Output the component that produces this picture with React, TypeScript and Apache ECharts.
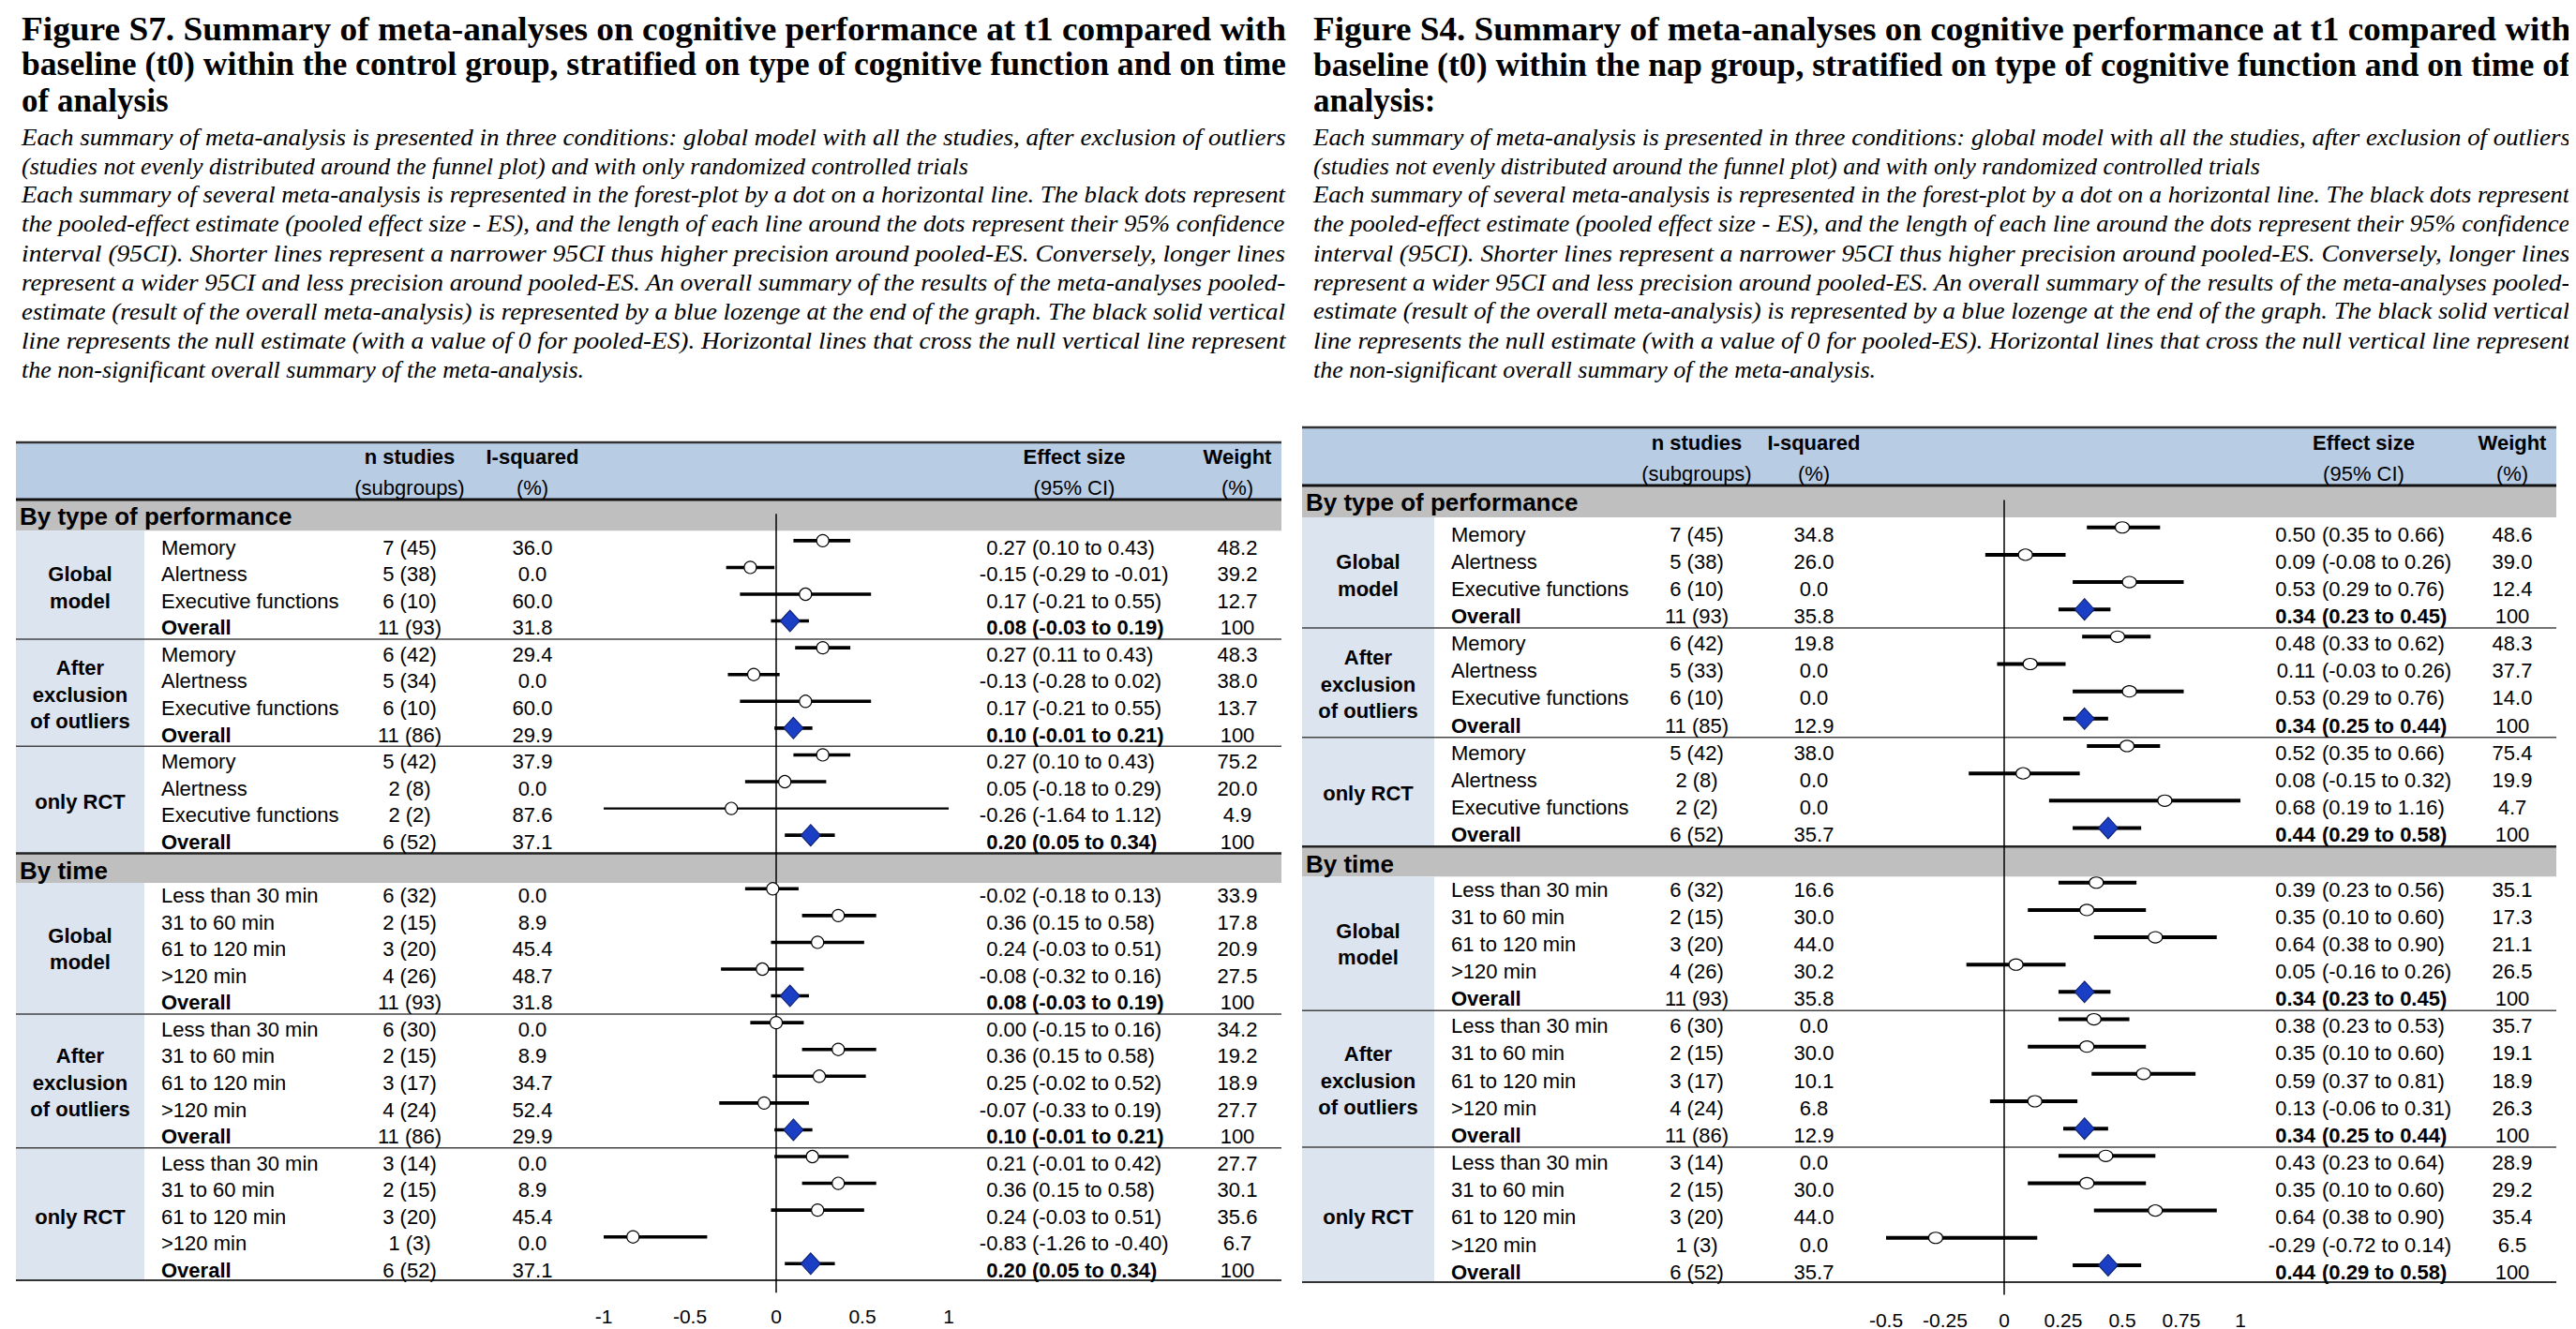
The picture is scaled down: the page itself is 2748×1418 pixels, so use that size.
import React, { useEffect, useRef } from "react";
import * as echarts from "echarts";

// ---------------- Shared labels ----------------
const typeRowLabels = ["Memory", "Alertness", "Executive functions", "Overall"];
const timeRowLabels = ["Less than 30 min", "31 to 60 min", "61 to 120 min", ">120 min", "Overall"];
const modelLabels = ["Global\nmodel", "After\nexclusion\nof outliers", "only RCT"];
const sectionLabels = ["By type of performance", "By time"];
const headerTopLabels = ["n studies", "I-squared", "Effect size", "Weight"];
const headerBottomLabels = ["(subgroups)", "(%)", "(95% CI)", "(%)"];

const s7Title = [
  "Figure S7. Summary of meta-analyses on cognitive performance at t1 compared with",
  "baseline (t0) within the control group, stratified on type of cognitive function and on time",
  "of analysis",
];
const s4Title = [
  "Figure S4. Summary of meta-analyses on cognitive performance at t1 compared with",
  "baseline (t0) within the nap group, stratified on type of cognitive function and on time of",
  "analysis:",
];
const noteLines = [
  "Each summary of meta-analysis is presented in three conditions: global model with all the studies, after exclusion of outliers",
  "(studies not evenly distributed around the funnel plot) and with only randomized controlled trials",
  "Each summary of several meta-analysis is represented in the forest-plot by a dot on a horizontal line. The black dots represent",
  "the pooled-effect estimate (pooled effect size - ES), and the length of each line around the dots represent their 95% confidence",
  "interval (95CI). Shorter lines represent a narrower 95CI thus higher precision around pooled-ES. Conversely, longer lines",
  "represent a wider 95CI and less precision around pooled-ES. An overall summary of the results of the meta-analyses pooled-",
  "estimate (result of the overall meta-analysis) is represented by a blue lozenge at the end of the graph. The black solid vertical",
  "line represents the null estimate (with a value of 0 for pooled-ES). Horizontal lines that cross the null vertical line represent",
  "the non-significant overall summary of the meta-analysis.",
];
const noteJustified = [true, false, true, true, true, true, true, true, false];
const titleJustified = [true, true, false];

// ---------------- Tick labels ----------------
const s7Ticks = [-1, -0.5, 0, 0.5, 1];
const s4Ticks = [-0.5, -0.25, 0, 0.25, 0.5, 0.75, 1];

// ---------------- Figure S7 (control group) ----------------
const s7TypeN = ["7 (45)", "5 (38)", "6 (10)", "11 (93)", "6 (42)", "5 (34)", "6 (10)", "11 (86)", "5 (42)", "2 (8)", "2 (2)", "6 (52)"];
const s7TypeI2 = [36.0, 0.0, 60.0, 31.8, 29.4, 0.0, 60.0, 29.9, 37.9, 0.0, 87.6, 37.1];
const s7TypeES = [0.27, -0.15, 0.17, 0.08, 0.27, -0.13, 0.17, 0.10, 0.27, 0.05, -0.26, 0.20];
const s7TypeLo = [0.10, -0.29, -0.21, -0.03, 0.11, -0.28, -0.21, -0.01, 0.10, -0.18, -1.64, 0.05];
const s7TypeHi = [0.43, -0.01, 0.55, 0.19, 0.43, 0.02, 0.55, 0.21, 0.43, 0.29, 1.12, 0.34];
const s7TypeW = [48.2, 39.2, 12.7, 100, 48.3, 38.0, 13.7, 100, 75.2, 20.0, 4.9, 100];

const s7TimeN = ["6 (32)", "2 (15)", "3 (20)", "4 (26)", "11 (93)", "6 (30)", "2 (15)", "3 (17)", "4 (24)", "11 (86)", "3 (14)", "2 (15)", "3 (20)", "1 (3)", "6 (52)"];
const s7TimeI2 = [0.0, 8.9, 45.4, 48.7, 31.8, 0.0, 8.9, 34.7, 52.4, 29.9, 0.0, 8.9, 45.4, 0.0, 37.1];
const s7TimeES = [-0.02, 0.36, 0.24, -0.08, 0.08, 0.00, 0.36, 0.25, -0.07, 0.10, 0.21, 0.36, 0.24, -0.83, 0.20];
const s7TimeLo = [-0.18, 0.15, -0.03, -0.32, -0.03, -0.15, 0.15, -0.02, -0.33, -0.01, -0.01, 0.15, -0.03, -1.26, 0.05];
const s7TimeHi = [0.13, 0.58, 0.51, 0.16, 0.19, 0.16, 0.58, 0.52, 0.19, 0.21, 0.42, 0.58, 0.51, -0.40, 0.34];
const s7TimeW = [33.9, 17.8, 20.9, 27.5, 100, 34.2, 19.2, 18.9, 27.7, 100, 27.7, 30.1, 35.6, 6.7, 100];

// ---------------- Figure S4 (nap group) ----------------
const s4TypeN = ["7 (45)", "5 (38)", "6 (10)", "11 (93)", "6 (42)", "5 (33)", "6 (10)", "11 (85)", "5 (42)", "2 (8)", "2 (2)", "6 (52)"];
const s4TypeI2 = [34.8, 26.0, 0.0, 35.8, 19.8, 0.0, 0.0, 12.9, 38.0, 0.0, 0.0, 35.7];
const s4TypeES = [0.50, 0.09, 0.53, 0.34, 0.48, 0.11, 0.53, 0.34, 0.52, 0.08, 0.68, 0.44];
const s4TypeLo = [0.35, -0.08, 0.29, 0.23, 0.33, -0.03, 0.29, 0.25, 0.35, -0.15, 0.19, 0.29];
const s4TypeHi = [0.66, 0.26, 0.76, 0.45, 0.62, 0.26, 0.76, 0.44, 0.66, 0.32, 1.16, 0.58];
const s4TypeW = [48.6, 39.0, 12.4, 100, 48.3, 37.7, 14.0, 100, 75.4, 19.9, 4.7, 100];

const s4TimeN = ["6 (32)", "2 (15)", "3 (20)", "4 (26)", "11 (93)", "6 (30)", "2 (15)", "3 (17)", "4 (24)", "11 (86)", "3 (14)", "2 (15)", "3 (20)", "1 (3)", "6 (52)"];
const s4TimeI2 = [16.6, 30.0, 44.0, 30.2, 35.8, 0.0, 30.0, 10.1, 6.8, 12.9, 0.0, 30.0, 44.0, 0.0, 35.7];
const s4TimeES = [0.39, 0.35, 0.64, 0.05, 0.34, 0.38, 0.35, 0.59, 0.13, 0.34, 0.43, 0.35, 0.64, -0.29, 0.44];
const s4TimeLo = [0.23, 0.10, 0.38, -0.16, 0.23, 0.23, 0.10, 0.37, -0.06, 0.25, 0.23, 0.10, 0.38, -0.72, 0.29];
const s4TimeHi = [0.56, 0.60, 0.90, 0.26, 0.45, 0.53, 0.60, 0.81, 0.31, 0.44, 0.64, 0.60, 0.90, 0.14, 0.58];
const s4TimeW = [35.1, 17.3, 21.1, 26.5, 100, 35.7, 19.1, 18.9, 26.3, 100, 28.9, 29.2, 35.4, 6.5, 100];

// ---------------- Layout / style ----------------
const SANS = '"Liberation Sans", Arial, Helvetica, sans-serif';
const SERIF = '"Liberation Serif", "Times New Roman", Times, serif';
const SLOT_MIN = -1.5;
const SLOT_MAX = 27.62;
const TEXT_SHIFT = 0.25;
const SEP_SHIFT = 0.68;
const BAND1 = [-1.5, -0.37];
const BAND2_H = 1.1;
const HEADER_BLUE = "#b8cce4";
const BAND_GRAY = "#bfbfbf";
const CAT_BLUE = "#dce4ef";
const DIAMOND_BLUE = "#1a3fc4";

type Cfg = {
  tableLeft: number; tableRight: number; catRight: number; labelX: number;
  nX: number; iX: number; esX: number; ciX: number; wX: number;
  gridLeft: number; gridWidth: number; gridTop: number; gridHeight: number;
  headerH: number; titleX: number; titleW: number; labelMargin: number;
  lineW: number; dot: number[];
};

const CFG_S7: Cfg = {
  tableLeft: 9, tableRight: 1359, catRight: 146, labelX: 164,
  nX: 429, iX: 560, esX: 1087, ciX: 1093, wX: 1312,
  gridLeft: 636, gridWidth: 368, gridTop: 526, gridHeight: 832,
  headerH: 62, titleX: 15, titleW: 1349, labelMargin: 28, lineW: 3.6, dot: [13, 13],
};
const CFG_S4: Cfg = {
  tableLeft: 1381, tableRight: 2719, catRight: 1522, labelX: 1540,
  nX: 1802, iX: 1927, esX: 2462, ciX: 2469, wX: 2672,
  gridLeft: 2004, gridWidth: 378, gridTop: 511, gridHeight: 849,
  headerH: 63, titleX: 1393, titleW: 1341, labelMargin: 30, lineW: 4, dot: [15, 12],
};

type Row = { slot: number; label: string; n: string; i2: number; es: number; lo: number; hi: number; w: number; overall: boolean };

type PanelData = {
  typeN: string[]; typeI2: number[]; typeES: number[]; typeLo: number[]; typeHi: number[]; typeW: number[];
  timeN: string[]; timeI2: number[]; timeES: number[]; timeLo: number[]; timeHi: number[]; timeW: number[];
};

function buildRows(d: PanelData): Row[] {
  const rows: Row[] = [];
  const nt = typeRowLabels.length;
  for (let i = 0; i < d.typeN.length; i++) {
    const k = i % nt;
    rows.push({ slot: i, label: typeRowLabels[k], n: d.typeN[i], i2: d.typeI2[i], es: d.typeES[i], lo: d.typeLo[i], hi: d.typeHi[i], w: d.typeW[i], overall: k === nt - 1 });
  }
  const start = d.typeN.length + 1;
  const nm = timeRowLabels.length;
  for (let i = 0; i < d.timeN.length; i++) {
    const k = i % nm;
    rows.push({ slot: start + i, label: timeRowLabels[k], n: d.timeN[i], i2: d.timeI2[i], es: d.timeES[i], lo: d.timeLo[i], hi: d.timeHi[i], w: d.timeW[i], overall: k === nm - 1 });
  }
  return rows;
}

function textEl(text: string, x: number, y: number, opts: any = {}) {
  const align = opts.align || "left";
  return {
    type: "text",
    style: {
      text, x, y,
      fill: "#000",
      fontSize: opts.fontSize || 22,
      fontFamily: opts.fontFamily || SANS,
      fontWeight: opts.fontWeight || "normal",
      fontStyle: opts.fontStyle || "normal",
      lineHeight: opts.lineHeight,
      align, textAlign: align,
      verticalAlign: "middle", textVerticalAlign: "middle",
    },
  };
}

function structureRender(cfg: Cfg, nType: number) {
  return (params: any, api: any) => {
    const Y = (s: number) => api.coord([0, s])[1];
    const X0 = api.coord([0, 0])[0];
    const L = cfg.tableLeft, R = cfg.tableRight, W = R - L;
    const gt = Y(SLOT_MIN);
    const ch: any[] = [];
    const rect = (x: number, y: number, w: number, h: number, fill: string) => ({ type: "rect", shape: { x, y, width: w, height: h }, style: { fill } });
    const hline = (y: number, lw: number, color: string) => ({ type: "line", shape: { x1: L, y1: y, x2: R, y2: y }, style: { stroke: color, lineWidth: lw } });

    const tg = typeRowLabels.length, mg = timeRowLabels.length;
    const band2 = [nType - 1 + SEP_SHIFT, nType - 1 + SEP_SHIFT + BAND2_H];
    const timeStart = nType + 1;

    ch.push(rect(L, gt - cfg.headerH, W, cfg.headerH, HEADER_BLUE));
    ch.push(rect(L, Y(BAND1[0]), W, Y(BAND1[1]) - Y(BAND1[0]), BAND_GRAY));
    ch.push(rect(L, Y(band2[0]), W, Y(band2[1]) - Y(band2[0]), BAND_GRAY));
    ch.push(rect(L, Y(BAND1[1]), cfg.catRight - L, Y(band2[0]) - Y(BAND1[1]), CAT_BLUE));
    ch.push(rect(L, Y(band2[1]), cfg.catRight - L, Y(SLOT_MAX) - Y(band2[1]), CAT_BLUE));

    ch.push(hline(gt - cfg.headerH, 2.5, "#333"));
    ch.push(hline(gt - 1, 3, "#111"));
    modelLabels.forEach((_, g) => {
      const s = g * tg + tg - 1 + SEP_SHIFT;
      const last = g === modelLabels.length - 1;
      ch.push(hline(Y(s), last ? 2.5 : 1.5, last ? "#222" : "#444"));
    });
    modelLabels.forEach((_, g) => {
      if (g === modelLabels.length - 1) return;
      const s = timeStart + g * mg + mg - 1 + SEP_SHIFT;
      ch.push(hline(Y(s), 1.5, "#444"));
    });
    ch.push(hline(Y(SLOT_MAX), 2, "#333"));

    // header texts
    const cols = [cfg.nX, cfg.iX, (cfg.esX + cfg.ciX) / 2 + 48, cfg.wX];
    headerTopLabels.forEach((t, i) => ch.push(textEl(t, cols[i], gt - 46.5, { align: "center", fontWeight: "bold" })));
    headerBottomLabels.forEach((t, i) => ch.push(textEl(t, cols[i], gt - 13.5, { align: "center" })));

    // section labels
    ch.push(textEl(sectionLabels[0], L + 4, Y(-0.9), { fontSize: 26, fontWeight: "bold" }));
    ch.push(textEl(sectionLabels[1], L + 4, Y((band2[0] + band2[1]) / 2 + 0.08), { fontSize: 26, fontWeight: "bold" }));

    // category labels
    const catX = (L + cfg.catRight) / 2;
    modelLabels.forEach((m, g) => {
      const s1 = g * tg + (tg - 1) / 2 + TEXT_SHIFT;
      ch.push(textEl(m, catX, Y(s1), { align: "center", fontWeight: "bold", lineHeight: 28.5 }));
      const s2 = timeStart + g * mg + (mg - 1) / 2 + TEXT_SHIFT;
      ch.push(textEl(m, catX, Y(s2), { align: "center", fontWeight: "bold", lineHeight: 28.5 }));
    });

    // null line
    ch.push({ type: "line", shape: { x1: X0, y1: Y(-1), x2: X0, y2: Y(28.08) }, style: { stroke: "#000", lineWidth: 1.5 } });
    return { type: "group", children: ch };
  };
}

function rowsRender(cfg: Cfg, rows: Row[], xmin: number, xmax: number) {
  return (params: any, api: any) => {
    const r = rows[params.dataIndex];
    const yT = api.coord([0, r.slot + TEXT_SHIFT])[1];
    const lo = Math.max(r.lo, xmin), hi = Math.min(r.hi, xmax);
    const p1 = api.coord([lo, r.slot]);
    const p2 = api.coord([hi, r.slot]);
    const both = r.lo < xmin && r.hi > xmax;
    const fw = r.overall ? "bold" : "normal";
    return {
      type: "group",
      children: [
        { type: "line", shape: { x1: p1[0], y1: p1[1], x2: p2[0], y2: p2[1] }, style: { stroke: "#000", lineWidth: both ? cfg.lineW * 0.6 : cfg.lineW } },
        textEl(r.label, cfg.labelX, yT, { fontWeight: fw }),
        textEl(r.n, cfg.nX, yT, { align: "center" }),
        textEl(r.i2.toFixed(1), cfg.iX, yT, { align: "center" }),
        textEl(r.es.toFixed(2), cfg.esX, yT, { align: "right", fontWeight: fw }),
        textEl(`(${r.lo.toFixed(2)} to ${r.hi.toFixed(2)})`, cfg.ciX, yT, { fontWeight: fw }),
        textEl(r.w === 100 ? "100" : r.w.toFixed(1), cfg.wX, yT, { align: "center" }),
      ],
    };
  };
}

let measureCtx: CanvasRenderingContext2D | null = null;
function measure(text: string, font: string) {
  if (!measureCtx) measureCtx = document.createElement("canvas").getContext("2d");
  measureCtx!.font = font;
  return measureCtx!.measureText(text).width;
}

function titleElements(cfg: Cfg, title: string[]) {
  const els: any[] = [];
  const tFont = `bold 35px ${SERIF}`;
  title.forEach((line, i) => {
    const w = measure(line, tFont);
    let sx = titleJustified[i] ? cfg.titleW / w : 1;
    sx = Math.max(0.9, Math.min(1.1, sx));
    els.push({
      type: "text", x: cfg.titleX, y: 23 + i * 38, scaleX: sx,
      style: { text: line, fill: "#000", fontSize: 35, fontFamily: SERIF, fontWeight: "bold", align: "left", textAlign: "left", verticalAlign: "middle", textVerticalAlign: "middle" },
    });
  });
  const nFont = `italic 26px ${SERIF}`;
  noteLines.forEach((line, i) => {
    const w = measure(line, nFont);
    let sx = noteJustified[i] ? cfg.titleW / w : 1;
    sx = Math.max(0.9, Math.min(1.1, sx));
    els.push({
      type: "text", x: cfg.titleX, y: 138 + i * 31, scaleX: sx,
      style: { text: line, fill: "#000", fontSize: 26, fontFamily: SERIF, fontStyle: "italic", align: "left", textAlign: "left", verticalAlign: "middle", textVerticalAlign: "middle" },
    });
  });
  return els;
}

function buildOption() {
  const panels = [
    { cfg: CFG_S7, ticks: s7Ticks, title: s7Title, data: { typeN: s7TypeN, typeI2: s7TypeI2, typeES: s7TypeES, typeLo: s7TypeLo, typeHi: s7TypeHi, typeW: s7TypeW, timeN: s7TimeN, timeI2: s7TimeI2, timeES: s7TimeES, timeLo: s7TimeLo, timeHi: s7TimeHi, timeW: s7TimeW } },
    { cfg: CFG_S4, ticks: s4Ticks, title: s4Title, data: { typeN: s4TypeN, typeI2: s4TypeI2, typeES: s4TypeES, typeLo: s4TypeLo, typeHi: s4TypeHi, typeW: s4TypeW, timeN: s4TimeN, timeI2: s4TimeI2, timeES: s4TimeES, timeLo: s4TimeLo, timeHi: s4TimeHi, timeW: s4TimeW } },
  ];
  const grid: any[] = [], xAxis: any[] = [], yAxis: any[] = [], series: any[] = [], graphic: any[] = [];
  panels.forEach((p, idx) => {
    const { cfg, ticks } = p;
    const xmin = ticks[0], xmax = ticks[ticks.length - 1];
    const rows = buildRows(p.data);
    grid.push({ left: cfg.gridLeft, top: cfg.gridTop, width: cfg.gridWidth, height: cfg.gridHeight, containLabel: false, outerBoundsMode: "none" });
    xAxis.push({
      type: "value", gridIndex: idx, min: xmin, max: xmax, interval: ticks[1] - ticks[0],
      axisLine: { show: false }, axisTick: { show: false }, splitLine: { show: false },
      axisLabel: { show: true, fontSize: 21, fontFamily: SANS, color: "#000", margin: cfg.labelMargin },
    });
    yAxis.push({ type: "value", gridIndex: idx, inverse: true, min: SLOT_MIN, max: SLOT_MAX, show: false, splitLine: { show: false } });
    series.push({
      type: "custom", xAxisIndex: idx, yAxisIndex: idx, z: 1, silent: true, clip: false,
      data: [[0, 0]],
      renderItem: structureRender(cfg, p.data.typeN.length),
    });
    series.push({
      type: "custom", xAxisIndex: idx, yAxisIndex: idx, z: 2, silent: true, clip: false,
      data: rows.map((r) => [r.es, r.slot]),
      encode: { x: 0, y: 1 },
      renderItem: rowsRender(cfg, rows, xmin, xmax),
    });
    series.push({
      type: "scatter", xAxisIndex: idx, yAxisIndex: idx, z: 3, silent: true,
      symbol: "circle", symbolSize: cfg.dot,
      itemStyle: { color: "#fff", borderColor: "#000", borderWidth: 1.2, opacity: 1 },
      data: rows.filter((r) => !r.overall).map((r) => [r.es, r.slot]),
    });
    series.push({
      type: "scatter", xAxisIndex: idx, yAxisIndex: idx, z: 3, silent: true,
      symbol: "diamond", symbolSize: [21, 23],
      itemStyle: { color: DIAMOND_BLUE, borderColor: "#0a1c66", borderWidth: 1, opacity: 1 },
      data: rows.filter((r) => r.overall).map((r) => [r.es, r.slot]),
    });
    titleElements(cfg, p.title).forEach((e) => graphic.push(e));
  });
  return { animation: false, backgroundColor: "#fff", tooltip: { show: false }, grid, xAxis, yAxis, series, graphic };
}

export default function App() {
  const ref = useRef<HTMLDivElement>(null);
  useEffect(() => {
    const el = ref.current;
    if (!el) return;
    const chart = echarts.init(el, null, { renderer: "svg", width: 2748, height: 1418 });
    chart.setOption(buildOption() as any);
    return () => chart.dispose();
  }, []);
  return <div ref={ref} style={{ position: "fixed", left: 0, top: 0, width: 2748, height: 1418, background: "#fff" }} />;
}
